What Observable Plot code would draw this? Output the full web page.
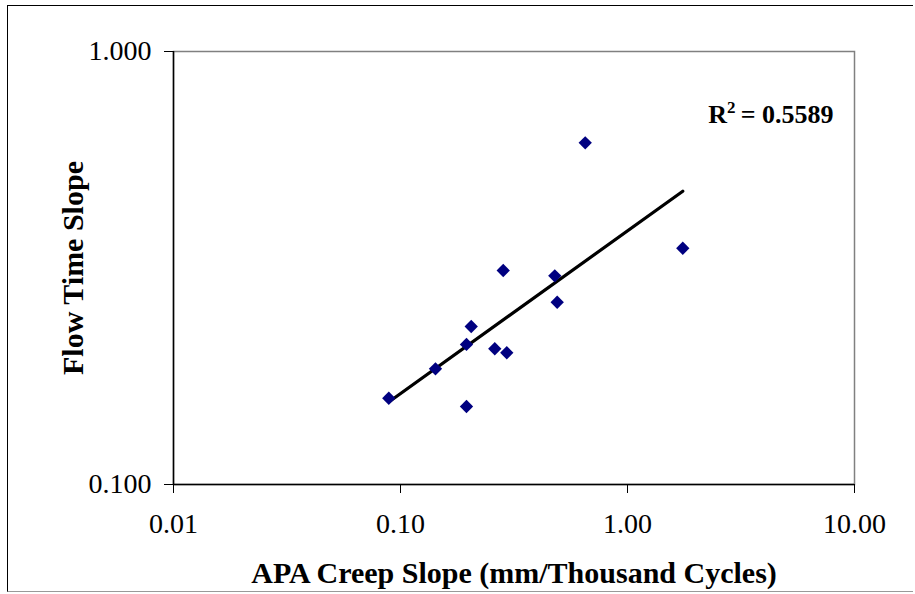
<!DOCTYPE html>
<html>
<head>
<meta charset="utf-8">
<script src="https://cdn.jsdelivr.net/npm/d3@7"></script>
<script src="https://cdn.jsdelivr.net/npm/@observablehq/plot@0.6"></script>
<style>
  html, body { margin: 0; padding: 0; background: white; }
  #wrap { position: relative; width: 915px; height: 594px; }
  #border { position: absolute; left: 7px; top: 5px; width: 906px; height: 587px;
            border-top: 1px solid #000; border-left: 1px solid #000; border-bottom: 1px solid #999;
            pointer-events: none; box-sizing: border-box; }
</style>
</head>
<body>
<div id="wrap"><div id="border"></div></div>
<script>
// Data
const creepSlope    = [0.0888, 0.1426, 0.1953, 0.1953, 0.2049, 0.2602, 0.2939, 0.2835, 0.4783, 0.4901, 0.6513, 1.752];
const flowTimeSlope = [0.1582, 0.1850, 0.1514, 0.2106, 0.2317, 0.2058, 0.2015, 0.3120, 0.3034, 0.2636, 0.6153, 0.3513];
const xTicks = [0.01, 0.1, 1, 10];
const yTicks = [0.1, 1];
const xTitle = "APA Creep Slope (mm/Thousand Cycles)";
const yTitle = "Flow Time Slope";
const r2Value = "0.5589";

const points = creepSlope.map((x, i) => ({x, y: flowTimeSlope[i]}));

// Power trendline (least squares in log-log space), like Excel's power fit
const lx = creepSlope.map(Math.log10), ly = flowTimeSlope.map(Math.log10);
const mx = d3.mean(lx), my = d3.mean(ly);
const b = d3.sum(lx, (v, i) => (v - mx) * (ly[i] - my)) / d3.sum(lx, v => (v - mx) ** 2);
const a = my - b * mx;
const [xmin, xmax] = d3.extent(creepSlope);
const trend = [xmin, xmax].map(x => ({x, y: Math.pow(10, a + b * Math.log10(x))}));

const font = "'Liberation Serif', 'Times New Roman', serif";

const chart = Plot.plot({
  width: 915,
  height: 594,
  marginLeft: 173,
  marginRight: 61,
  marginTop: 51,
  marginBottom: 110,
  style: {fontFamily: font, background: "transparent", color: "black"},
  x: {type: "log", domain: [0.01, 10], axis: null},
  y: {type: "log", domain: [0.1, 1], axis: null},
  marks: [
    Plot.frame({stroke: "#808080", strokeWidth: 1.5}),
    Plot.ruleX([0.01], {stroke: "black", strokeWidth: 1.5}),
    Plot.ruleY([0.1], {stroke: "black", strokeWidth: 1.5}),
    Plot.axisX({ticks: xTicks, tickFormat: d => d.toFixed(2), tickSize: 9, tickPadding: 20,
                fontSize: 28, stroke: "black", strokeWidth: 1, label: null}),
    Plot.axisY({ticks: yTicks, tickFormat: d => d.toFixed(3), tickSize: 9, tickPadding: 13,
                fontSize: 28, stroke: "black", strokeWidth: 1, label: null}),
    Plot.line(trend, {x: "x", y: "y", stroke: "black", strokeWidth: 3.2}),
    Plot.dot(points, {x: "x", y: "y", symbol: "diamond2", r: 6, fill: "#000080", stroke: "none"}),
    Plot.text([xTitle], {frameAnchor: "bottom", lineAnchor: "middle", textAnchor: "middle", dy: 89,
                         text: d => d, fontSize: 30, fontWeight: "bold"}),
    Plot.text([yTitle], {frameAnchor: "left", lineAnchor: "middle", textAnchor: "middle", dx: -100, rotate: -90,
                         text: d => d, fontSize: 30, fontWeight: "bold"}),
    Plot.text([r2Value], {frameAnchor: "top-right", lineAnchor: "middle", textAnchor: "end", dx: -21, dy: 63,
                          text: d => "R2 = " + d, fontSize: 26, fontWeight: "bold", className: "r2label"})
  ]
});
// Render the "2" of R² as a real superscript
d3.select(chart).selectAll(".r2label text").each(function(d) {
  const t = d3.select(this);
  t.text(null);
  t.append("tspan").text("R");
  t.append("tspan").attr("dy", "-10").attr("font-size", "17").text("2");
  t.append("tspan").attr("dy", "10").text("\u2009= " + r2Value);
});
chart.style.position = "absolute";
chart.style.left = "0";
chart.style.top = "0";
document.getElementById("wrap").prepend(chart);
</script>
</body>
</html>
